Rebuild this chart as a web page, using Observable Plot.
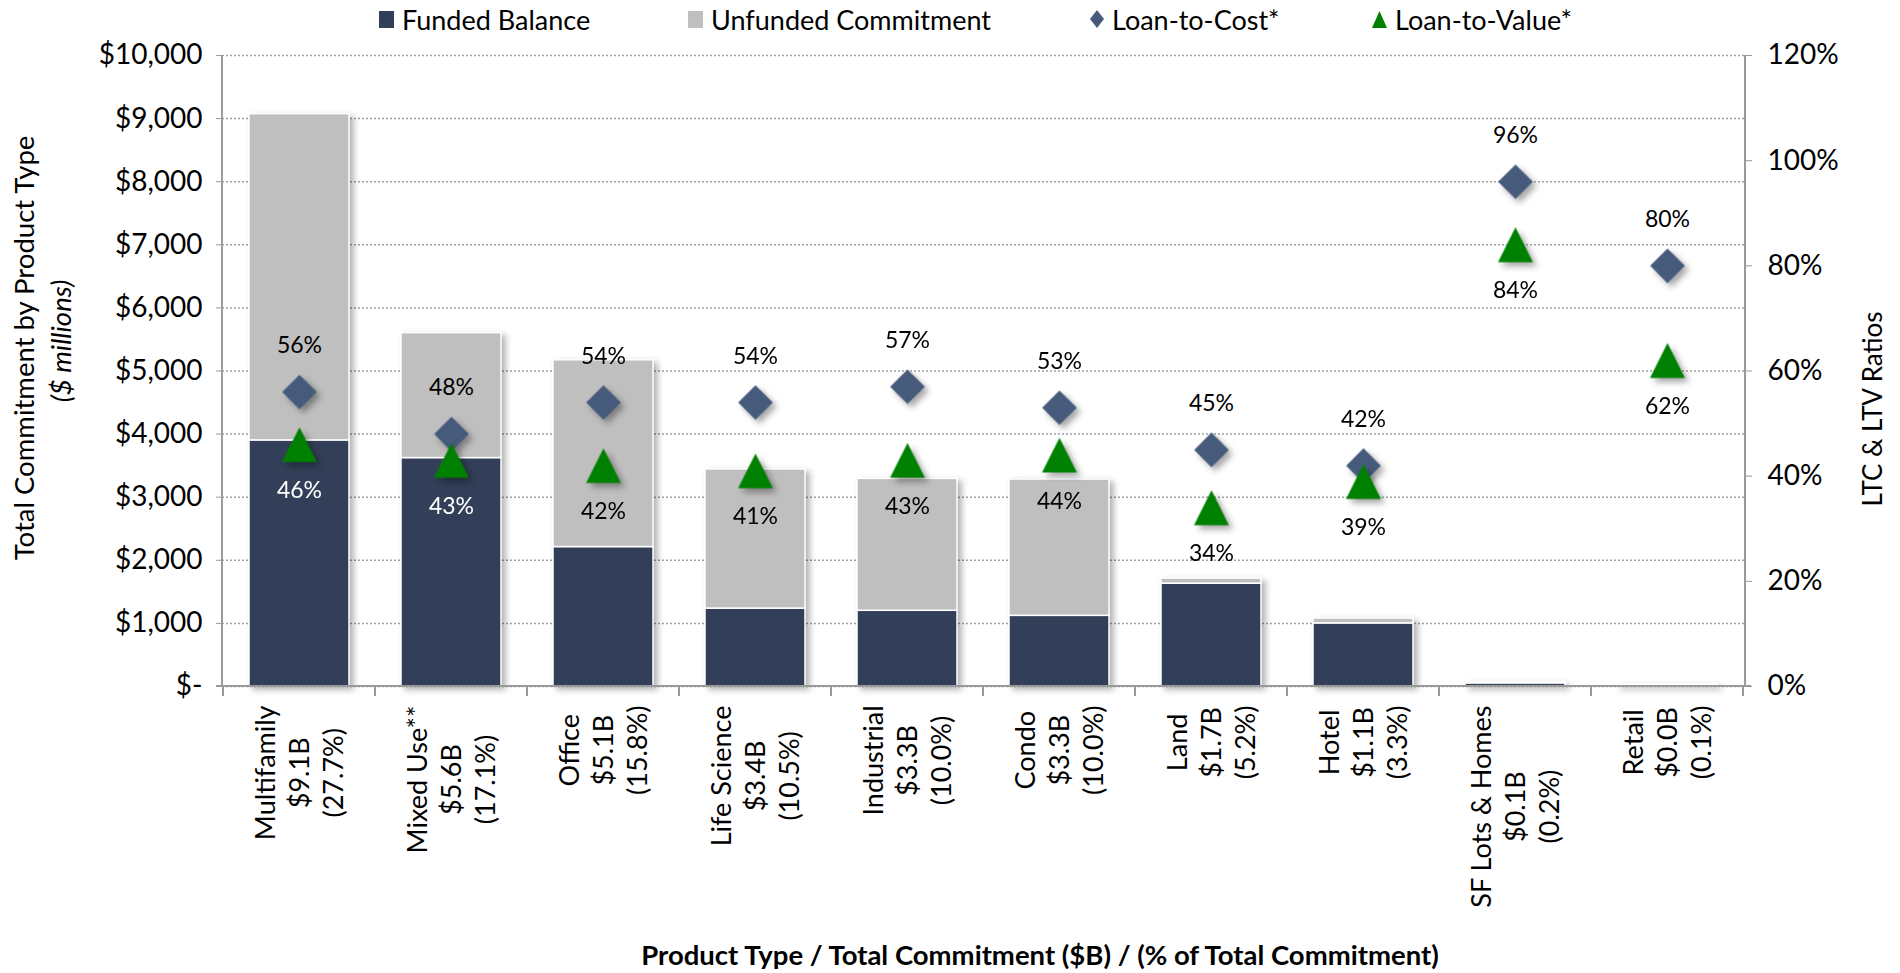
<!DOCTYPE html>
<html><head><meta charset="utf-8">
<script src="https://cdn.jsdelivr.net/npm/d3@7"></script>
<script src="https://cdn.jsdelivr.net/npm/@observablehq/plot@0.6"></script>
<style>
body{margin:0;background:#fff;}
#wrap{position:relative;width:1900px;height:973px;overflow:hidden;font-family:Lato,sans-serif;background:#fff;}
#legend{position:relative;height:38px;}
.item{position:absolute;top:0;height:38px;display:flex;align-items:center;gap:8px;font-size:27px;color:#000;line-height:1;white-space:nowrap;}
svg g[aria-label="bar"]{filter:drop-shadow(4px 3px 3px rgba(0,0,0,0.30));}
svg g[aria-label="dot"]{filter:drop-shadow(4px 4px 3px rgba(0,0,0,0.35));}
svg g[aria-label="x-axis tick label"] text{font-family:Lato,sans-serif;font-size:27px;}
</style></head>
<body><div id="wrap"><div id="legend"></div><div id="chart"></div></div>
<script>
// ---- data ----
const categories = ["Multifamily","Mixed Use**","Office","Life Science","Industrial","Condo","Land","Hotel","SF Lots & Homes","Retail"];
const totalLabels = ["$9.1B","$5.6B","$5.1B","$3.4B","$3.3B","$3.3B","$1.7B","$1.1B","$0.1B","$0.0B"];
const shareLabels = ["(27.7%)","(17.1%)","(15.8%)","(10.5%)","(10.0%)","(10.0%)","(5.2%)","(3.3%)","(0.2%)","(0.1%)"];
const fundedBalance = [3900,3620,2210,1235,1200,1120,1630,1000,50,30];
const unfundedCommitment = [5170,1980,2960,2205,2090,2160,80,77,10,3];
const loanToCost = [56,48,54,54,57,53,45,42,96,80];
const loanToValue = [46,43,42,41,43,44,34,39,84,62];
const leftTicks = [0,1000,2000,3000,4000,5000,6000,7000,8000,9000,10000];
const rightTicks = [0,20,40,60,80,100,120];
const seriesNames = ["Funded Balance","Unfunded Commitment","Loan-to-Cost*","Loan-to-Value*"];
const yTitle = "Total Commitment by Product Type";
const yTitleSub = "($ millions)";
const y2Title = "LTC & LTV Ratios";
const xTitle = "Product Type / Total Commitment ($B) / (% of Total Commitment)";

// ---- styles ----
const colFunded = "#333F58", colUnfunded = "#BFBFBF", colLTC = "#465A7B", colLTV = "#008000";
const axisColor = "#9a9a9a";
const leftMax = leftTicks[leftTicks.length-1], rightMax = rightTicks[rightTicks.length-1];
const W = 1900, H = 935, mT = 17, mB = 287, mL = 222, mR = 155;
const plotH = H - mT - mB;
const labelOffset = 46;
const toLeft = p => p / rightMax * leftMax;

const rows = categories.map((c,i) => ({category:c, funded:fundedBalance[i], unfunded:unfundedCommitment[i], ltc:loanToCost[i], ltv:loanToValue[i]}));
const barRows = [
  ...rows.map(r => ({category:r.category, series:seriesNames[0], value:r.funded})),
  ...rows.map(r => ({category:r.category, series:seriesNames[1], value:r.unfunded}))
];

// legend
const legend = document.getElementById("legend");
const legendLeft = [379, 688, 1090, 1372];
const icons = [
  `<svg width="15" height="17"><rect width="15" height="17" fill="${colFunded}"/></svg>`,
  `<svg width="15" height="17"><rect width="15" height="17" fill="${colUnfunded}"/></svg>`,
  `<svg width="14" height="18"><path d="M7 0L14 9L7 18L0 9Z" fill="${colLTC}"/></svg>`,
  `<svg width="15" height="17"><path d="M7.5 0L15 17L0 17Z" fill="${colLTV}"/></svg>`
];
seriesNames.forEach((s,i) => {
  const d = document.createElement("div"); d.className = "item";
  d.style.left = legendLeft[i] + "px";
  d.innerHTML = icons[i] + `<span>${s}</span>`;
  legend.appendChild(d);
});

const triangle = {draw(ctx, size){ const h = Math.sqrt(size)/2; ctx.moveTo(0,-h); ctx.lineTo(h,h); ctx.lineTo(-h,h); ctx.closePath(); }};

function frameLines(index, scales, values, dims) {
  const {width, height, marginTop, marginRight, marginBottom, marginLeft} = dims;
  const x0 = marginLeft, x1 = width - marginRight, y0 = marginTop, y1 = height - marginBottom;
  const g = d3.create("svg:g").attr("stroke", axisColor).attr("stroke-width", 2).attr("fill","none");
  g.append("line").attr("x1",x0).attr("x2",x0).attr("y1",y0).attr("y2",y1);
  g.append("line").attr("x1",x1).attr("x2",x1).attr("y1",y0).attr("y2",y1);
  g.append("line").attr("x1",x0-6).attr("x2",x1+6).attr("y1",y1).attr("y2",y1);
  const x = scales.x;
  const pos = categories.map(c => x(c));
  const step = pos[1] - pos[0];
  const bw = x.bandwidth ? x.bandwidth() : 0;
  const gap = (step - bw) / 2;
  const bounds = pos.map(p => p - gap).concat([pos[pos.length-1] + bw + gap]);
  bounds.forEach(b => g.append("line").attr("x1",b).attr("x2",b).attr("y1",y1).attr("y2",y1+10));
  return g.node();
}

const chart = Plot.plot({
  width: W, height: H, marginTop: mT, marginBottom: mB, marginLeft: mL, marginRight: mR,
  style: {fontFamily: "Lato, sans-serif", fontSize: "26px", color: "#000", background: "transparent", overflow: "visible"},
  x: {domain: categories, paddingInner: 0.34, paddingOuter: 0.17, axis: null},
  y: {domain: [0, leftMax], axis: null},
  color: {domain: seriesNames.slice(0,2), range: [colFunded, colUnfunded]},
  marks: [
    Plot.gridY(leftTicks, {stroke: "#a0a0a0", strokeOpacity: 1, strokeWidth: 1.5, strokeDasharray: "2,2"}),
    Plot.barY(barRows, {x: "category", y: "value", fill: "series", stroke: "white", strokeWidth: 1.5, order: seriesNames.slice(0,2)}),
    frameLines,
    Plot.axisY({anchor: "left", ticks: leftTicks, tickSize: 6, tickPadding: 14, stroke: axisColor, fill: "#000", label: null, fontSize: 28,
      tickFormat: d => d === 0 ? "$-" : "$" + d3.format(",")(d)}),
    Plot.axisY({anchor: "right", ticks: rightTicks.map(toLeft), tickSize: 6, tickPadding: 16, stroke: axisColor, fill: "#000", label: null, fontSize: 28,
      tickFormat: d => Math.round(d / leftMax * rightMax) + "%"}),
    Plot.axisX({tickSize: 0, tickPadding: 19, tickRotate: -90, label: null,
      tickFormat: c => { const i = categories.indexOf(c); return [c, totalLabels[i], shareLabels[i]].join("\n"); }}),
    Plot.dot(rows, {x: "category", y: d => toLeft(d.ltc), symbol: "diamond2", r: 15.6, fill: colLTC}),
    Plot.dot(rows, {x: "category", y: d => toLeft(d.ltv), symbol: triangle, r: 19.7, fill: colLTV}),
    Plot.text(rows, {x: "category", y: d => toLeft(d.ltc), text: d => d.ltc + "%", dy: -labelOffset, fontSize: 23, fill: "#000"}),
    Plot.text(rows, {x: "category", y: d => toLeft(d.ltv), text: d => d.ltv + "%", dy: labelOffset, fontSize: 23,
      fill: d => (toLeft(d.ltv) - labelOffset * leftMax / plotH) < d.funded ? "#fff" : "#000"}),
    Plot.text([yTitle], {frameAnchor: "left", text: d => d, rotate: -90, textAnchor: "middle", lineAnchor: "middle", dx: -197, dy: -23, fontSize: 27.5}),
    Plot.text([yTitleSub], {frameAnchor: "left", text: d => d, rotate: -90, textAnchor: "middle", lineAnchor: "middle", dx: -160, dy: -30, fontSize: 27.5, fontStyle: "italic"}),
    Plot.text([y2Title], {frameAnchor: "right", text: d => d, rotate: -90, textAnchor: "middle", lineAnchor: "middle", dx: 128, dy: 38, fontSize: 26}),
    Plot.text([xTitle], {frameAnchor: "bottom", text: d => d, textAnchor: "middle", lineAnchor: "middle", dx: 56, dy: 270, fontSize: 27.5, fontWeight: "bold"})
  ]
});
document.getElementById("chart").appendChild(chart);

// center-align the stacked lines of each rotated category label
const LINE = 34, FS = 27;
chart.querySelectorAll('g[aria-label="x-axis tick label"] text').forEach(t => {
  t.setAttribute("text-anchor", "middle");
  const spans = [...t.querySelectorAll("tspan")];
  if (!spans.length) return;
  const Wd = Math.max(...spans.map(s => s.getComputedTextLength()));
  const n = spans.length;
  spans.forEach((s, i) => {
    s.setAttribute("x", (-Wd/2).toFixed(1));
    s.removeAttribute("dy");
    s.setAttribute("y", ((i - (n-1)/2) * LINE + FS * 0.35).toFixed(1));
  });
});
</script></body></html>
